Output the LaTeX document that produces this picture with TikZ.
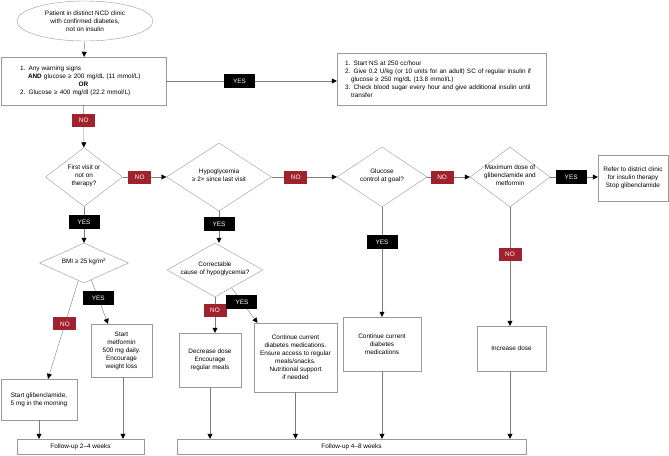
\documentclass[tikz,border=0pt]{standalone}
\usepackage{fontspec}
\setmainfont{Liberation Sans}
\usetikzlibrary{arrows.meta,shapes.geometric}
\definecolor{noRed}{HTML}{A0222C}
\definecolor{lineGray}{HTML}{7A7A7A}
\definecolor{boxGray}{HTML}{999999}
% text of a diamond, kept out of the shape's size
\newcommand\diatext[1]{\makebox[0pt]{\raisebox{-1.6pt}{\smash{\begin{tabular}[c]{@{}c@{}}#1\end{tabular}}}}}

\begin{document}
\begin{tikzpicture}[x=1pt,y=-1pt,
    >={Triangle[length=5pt,width=5pt,color=black]},
    every node/.style={font=\fontsize{6.4}{8}\selectfont},
    stepbox/.style={draw=boxGray,rectangle,align=center,inner sep=2pt},
    decide/.style={draw=boxGray,diamond,inner sep=0pt},
    nolbl/.style={fill=noRed,text=white,minimum width=23pt,minimum height=13pt,inner sep=1pt},
    yeslbl/.style={fill=black,text=white,minimum width=31pt,minimum height=14pt,inner sep=1pt},
    flow/.style={draw=lineGray,->}]
  \useasboundingbox (0,0) rectangle (669,455);

  % entry and emergency check
  \node[draw=boxGray,ellipse,minimum width=136pt,minimum height=40pt,align=center] (start) at (85,21)
    {Patient in distinct NCD clinic\\with confirmed diabetes,\\not on insulin};
  \node[stepbox,minimum width=165pt,minimum height=48pt,text width=127pt,align=left] (warn) at (83.5,81)
    {1. Any warning signs\\
     \hspace*{8pt}\textbf{AND} glucose ≥ 200 mg/dL (11 mmol/L)\\
     \hspace*{\fill}\textbf{OR}\hspace*{\fill}\null\\
     2. Glucose ≥ 400 mg/dl (22.2 mmol/L)};
  \node[stepbox,minimum width=209pt,minimum height=52pt,text width=193pt,align=left] (urgent) at (441.5,79)
    {1. Start NS at 250 cc/hour\\
     2. Give 0.2 U/kg (or 10 units for an adult) SC of regular insulin if\\
     \hspace*{6pt}glucose ≥ 250 mg/dL (13.8 mmol/L)\\
     3. Check blood sugar every hour and give additional insulin until\\
     \hspace*{6pt}transfer};

  % decision row
  \node[decide,minimum width=77pt,minimum height=59pt] (first) at (84,177)
    {\diatext{First visit or\\not on\\therapy?}};
  \node[decide,minimum width=105pt,minimum height=68pt] (hypo) at (219,177)
    {\diatext{Hypoglycemia\\≥ 2× since last visit}};
  \node[decide,minimum width=90pt,minimum height=60pt] (goal) at (382,177)
    {\diatext{Glucose\\control at goal?}};
  \node[decide,minimum width=80pt,minimum height=60pt] (maxdose) at (510,177)
    {\diatext{Maximum dose of\\glibenclamide and\\metformin}};
  \node[stepbox,minimum width=70pt,minimum height=46pt] (refer) at (633,178)
    {Refer to district clinic\\for insulin therapy\\Stop glibenclamide};

  % second level
  \node[decide,minimum width=89pt,minimum height=40pt] (bmi) at (84,263)
    {\diatext{BMI ≥ 25 kg/m\textsuperscript{2}}};
  \node[decide,minimum width=96pt,minimum height=54pt] (correct) at (215,270)
    {\diatext{Correctable\\cause of hypoglycemia?}};

  % actions
  \node[stepbox,minimum width=61pt,minimum height=53pt] (metf) at (121.5,350.5)
    {Start\\metformin\\500 mg daily.\\Encourage\\weight loss};
  \node[stepbox,minimum width=76pt,minimum height=41pt] (glib) at (39,399.5)
    {Start glibenclamide,\\5 mg in the morning};
  \node[stepbox,minimum width=62pt,minimum height=54pt] (decr) at (210,360)
    {Decrease dose\\Encourage\\regular meals};
  \node[stepbox,minimum width=83pt,minimum height=69pt] (keep) at (295.5,357.5)
    {Continue current\\diabetes medications.\\Ensure access to regular\\meals/snacks.\\Nutritional support\\if needed};
  \node[stepbox,minimum width=78pt,minimum height=54pt] (keepgoal) at (382,344)
    {Continue current\\diabetes\\medications};
  \node[stepbox,minimum width=69pt,minimum height=45pt] (incr) at (511.5,348.5)
    {Increase dose};

  % follow-up
  \node[stepbox,minimum width=127pt,minimum height=15pt] (fuA) at (80.5,446.5)
    {Follow-up 2–4 weeks};
  \node[stepbox,minimum width=349pt,minimum height=15pt] (fuB) at (351.5,446.5)
    {Follow-up 4–8 weeks};

  % connectors
  \draw[flow] (start) -- (warn);
  \draw[flow] (warn) -- node[yeslbl,pos=.43] (y0) {YES} (warn -| urgent.west);
  \draw[flow] (warn) -- node[nolbl,pos=.36] (n0) {NO} (first);
  \draw[flow] (first) -- node[nolbl,pos=.39] (n1) {NO} (hypo);
  \draw[flow] (hypo) -- node[nolbl,pos=.37] (n2) {NO} (goal);
  \draw[flow] (goal) -- node[nolbl,pos=.35] (n3) {NO} (maxdose);
  \draw[flow] (maxdose) -- node[yeslbl,pos=.44] (y4) {YES} (maxdose -| refer.west);
  \draw[flow] (first) -- node[yeslbl,pos=.43] (y1) {YES} (bmi);
  \draw[flow] (hypo.south) -- node[yeslbl,pos=.4] (y2) {YES} (hypo.south |- correct.north);
  \draw[flow] (goal) -- node[yeslbl,pos=.32] (y3) {YES} (goal |- keepgoal.north);
  \draw[flow] (maxdose) -- node[nolbl,pos=.4] (n4) {NO} (maxdose |- incr.north);
  \draw[flow] (bmi.252) -- node[nolbl,pos=.44] (n5) {NO} ([xshift=9pt]glib.north);
  \draw[flow] (bmi.293) -- node[yeslbl,pos=.42] (y5) {YES} ([xshift=-13.5pt]metf.north);
  \draw[flow] (correct.south) -- node[nolbl,pos=.36] (n6) {NO} ([xshift=5pt]decr.north);
  \draw[flow] (correct.313) -- node[yeslbl,pos=.4] (y6) {YES} ([xshift=-38pt]keep.north);
  \draw[flow] (glib) -- (glib |- fuA.north);
  \draw[flow] ([xshift=1.5pt]metf.south) -- ([xshift=1.5pt]metf.south |- fuA.north);
  \draw[flow] (decr) -- (decr |- fuB.north);
  \draw[flow] (keep) -- (keep |- fuB.north);
  \draw[flow] (keepgoal) -- (keepgoal |- fuB.north);
  \draw[flow] ([xshift=-1.5pt]incr.south) -- ([xshift=-1.5pt]incr.south |- fuB.north);
\end{tikzpicture}
\end{document}
